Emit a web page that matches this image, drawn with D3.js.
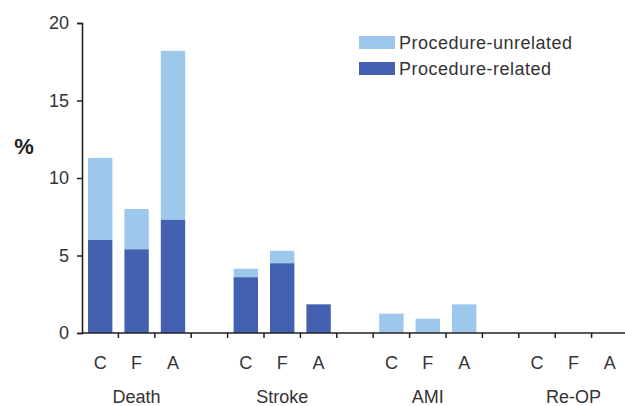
<!DOCTYPE html>
<html>
<head>
<meta charset="utf-8">
<script src="https://cdn.jsdelivr.net/npm/d3@7"></script>
<style>
  body { margin: 0; background: #fff; }
  svg { display: block; font-family: Arial, "Liberation Sans", sans-serif; }
</style>
</head>
<body>
<div id="chart"></div>
<script>
// data
const groups = ["Death", "Stroke", "AMI", "Re-OP"];
const subs = ["C", "F", "A"];
const related   = [6.0, 5.4, 7.3,  3.6, 4.5, 1.85,  0, 0, 0,  0, 0, 0];
const unrelated = [5.3, 2.6, 10.9, 0.55, 0.8, 0,  1.25, 0.92, 1.85,  0, 0, 0];
const yTicks = [0, 5, 10, 15, 20];

const width = 625, height = 406;
const marginLeft = 82, marginTop = 23, axisY = 333;

const light = "#9dc8ec";
const dark = "#4361b0";
const textColor = "#333";

// 15 slots: 3 bars per group + an empty gap slot between groups
const slots = [];
groups.forEach((g, gi) => {
  subs.forEach((s, si) => slots.push({ key: g + s, group: g, sub: s, idx: gi * 3 + si }));
  if (gi < groups.length - 1) slots.push({ key: "gap" + gi, gap: true });
});

const x = d3.scaleBand()
    .domain(slots.map(d => d.key))
    .range([marginLeft, marginLeft + 15 * 36.4])
    .paddingInner(0.33)
    .paddingOuter(0.165);

const y = d3.scaleLinear().domain([0, 20]).range([axisY, marginTop]);

const svg = d3.select("#chart").append("svg")
    .attr("width", width)
    .attr("height", height);

const bars = slots.filter(d => !d.gap).map(d => ({
  ...d, rel: related[d.idx], unrel: unrelated[d.idx]
}));

// unrelated part on top
svg.append("g").selectAll("rect")
  .data(bars.filter(d => d.unrel > 0))
  .join("rect")
    .attr("x", d => x(d.key))
    .attr("width", x.bandwidth())
    .attr("y", d => y(d.rel + d.unrel))
    .attr("height", d => y(d.rel) - y(d.rel + d.unrel))
    .attr("fill", light);

svg.append("g").selectAll("rect")
  .data(bars.filter(d => d.rel > 0))
  .join("rect")
    .attr("x", d => x(d.key))
    .attr("width", x.bandwidth())
    .attr("y", d => y(d.rel))
    .attr("height", d => y(0) - y(d.rel))
    .attr("fill", dark);

// y axis
const yAxis = svg.append("g")
    .attr("transform", `translate(${marginLeft},0)`)
    .call(d3.axisLeft(y).tickValues(yTicks).tickSize(5).tickPadding(8));
yAxis.select(".domain").attr("stroke", "#222").attr("stroke-width", 1.6);
yAxis.selectAll(".tick line").attr("stroke", "#222").attr("stroke-width", 1.5);
yAxis.selectAll(".tick text")
    .attr("fill", textColor)
    .style("font-size", "18px");

// x axis: ticks at slot boundaries
const step = x.step();
const boundaries = d3.range(slots.length + 1).map(i => marginLeft + i * step);
const xAxis = svg.append("g");
xAxis.append("line")
    .attr("x1", marginLeft).attr("x2", width + 5)
    .attr("y1", axisY).attr("y2", axisY)
    .attr("stroke", "#222").attr("stroke-width", 1.6);
xAxis.selectAll("line.tick")
  .data(boundaries.slice(1))
  .join("line")
    .attr("class", "tick")
    .attr("x1", d => d).attr("x2", d => d)
    .attr("y1", axisY).attr("y2", axisY + 5)
    .attr("stroke", "#222").attr("stroke-width", 1.5);

// sub labels
svg.append("g").selectAll("text")
  .data(bars)
  .join("text")
    .attr("x", d => x(d.key) + x.bandwidth() / 2)
    .attr("y", 369)
    .attr("text-anchor", "middle")
    .attr("fill", textColor)
    .style("font-size", "18px")
    .text(d => d.sub);

// group labels, under the middle bar
svg.append("g").selectAll("text")
  .data(groups)
  .join("text")
    .attr("x", g => x(g + "F") + x.bandwidth() / 2)
    .attr("y", 403)
    .attr("text-anchor", "middle")
    .attr("fill", textColor)
    .style("font-size", "18px")
    .text(g => g);

// y label
svg.append("text")
    .attr("x", 24)
    .attr("y", 154)
    .attr("text-anchor", "middle")
    .attr("fill", "#222")
    .style("font-size", "22px")
    .style("font-weight", "bold")
    .text("%");

// legend
const legend = [
  { label: "Procedure-unrelated", color: light },
  { label: "Procedure-related", color: dark }
];
const lg = svg.append("g").selectAll("g")
  .data(legend)
  .join("g")
    .attr("transform", (d, i) => `translate(359,${36 + i * 26})`);
lg.append("rect")
    .attr("width", 36).attr("height", 13)
    .attr("fill", d => d.color);
lg.append("text")
    .attr("x", 40).attr("y", 13)
    .attr("fill", textColor)
    .style("font-size", "18px")
    .style("letter-spacing", "0.5px")
    .text(d => d.label);
</script>
</body>
</html>
